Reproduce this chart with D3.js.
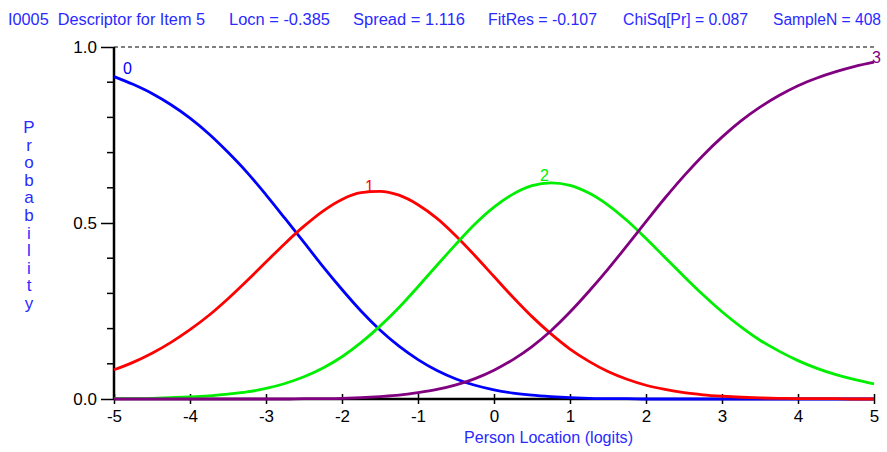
<!DOCTYPE html>
<html>
<head>
<meta charset="utf-8">
<script src="https://cdn.jsdelivr.net/npm/d3@7"></script>
<style>
  body { margin: 0; background: #fff; }
  svg { display: block; font-family: Arial, "Liberation Sans", sans-serif; }
</style>
</head>
<body>
<div id="chart"></div>
<script>
// person locations (logits)
const locations = [-5, -4.75, -4.5, -4.25, -4, -3.75, -3.5, -3.25, -3, -2.75, -2.5, -2.25, -2, -1.75, -1.5, -1.25, -1, -0.75, -0.5, -0.25,
  0, 0.25, 0.5, 0.75, 1, 1.25, 1.5, 1.75, 2, 2.25, 2.5, 2.75, 3, 3.25, 3.5, 3.75, 4, 4.25, 4.5, 4.75, 5];

// category probabilities
const cat0 = [0.916, 0.894, 0.868, 0.836, 0.798, 0.753, 0.701, 0.644, 0.580, 0.513, 0.445, 0.376, 0.311, 0.250, 0.196, 0.150, 0.112, 0.081, 0.057, 0.039,
  0.026, 0.017, 0.011, 0.007, 0.004, 0.002, 0.001, 0.001, 0, 0, 0, 0, 0, 0, 0, 0, 0, 0, 0, 0, 0];
const cat1 = [0.083, 0.104, 0.130, 0.161, 0.197, 0.238, 0.285, 0.336, 0.389, 0.442, 0.491, 0.534, 0.567, 0.586, 0.590, 0.579, 0.552, 0.513, 0.463, 0.407,
  0.348, 0.289, 0.234, 0.185, 0.142, 0.107, 0.078, 0.056, 0.039, 0.027, 0.018, 0.012, 0.008, 0.005, 0.003, 0.002, 0.001, 0.001, 0.001, 0, 0];
const cat2 = [0.001, 0.001, 0.002, 0.004, 0.006, 0.009, 0.014, 0.020, 0.030, 0.044, 0.063, 0.088, 0.120, 0.160, 0.207, 0.260, 0.319, 0.380, 0.440, 0.497,
  0.545, 0.582, 0.606, 0.614, 0.607, 0.585, 0.551, 0.507, 0.456, 0.402, 0.348, 0.296, 0.248, 0.205, 0.167, 0.136, 0.109, 0.087, 0.069, 0.055, 0.043];
const cat3 = [0, 0, 0, 0, 0, 0, 0, 0, 0, 0, 0.001, 0.001, 0.002, 0.004, 0.007, 0.011, 0.018, 0.027, 0.040, 0.058,
  0.082, 0.112, 0.149, 0.194, 0.247, 0.306, 0.369, 0.436, 0.504, 0.571, 0.634, 0.692, 0.744, 0.790, 0.829, 0.862, 0.890, 0.912, 0.930, 0.945, 0.957];

const categories = ["0", "1", "2", "3"];
const catColors = ["#0000ff", "#ff0000", "#00ee00", "#800080"];

const xTicks = [-5, -4, -3, -2, -1, 0, 1, 2, 3, 4, 5];
const yMajor = [0, 0.5, 1];
const yMinor = [0.1, 0.2, 0.3, 0.4, 0.6, 0.7, 0.8, 0.9];

const header = [
  { text: "I0005\u00a0 Descriptor for Item 5", x: 8, w: 197 },
  { text: "Locn = -0.385", x: 229, w: 101 },
  { text: "Spread = 1.116", x: 353, w: 112 },
  { text: "FitRes = -0.107", x: 488, w: 109 },
  { text: "ChiSq[Pr] = 0.087", x: 623, w: 125 },
  { text: "SampleN = 408", x: 773, w: 108 }
];

const W = 887, H = 452;
const margin = { top: 47, right: 13, bottom: 53, left: 114 };
const blueText = "#2a2aff";

const svg = d3.select("#chart").append("svg")
  .attr("width", W)
  .attr("height", H);

const x = d3.scaleLinear().domain([-5, 5]).range([margin.left, W - margin.right]);
const y = d3.scaleLinear().domain([0, 1]).range([H - margin.bottom, margin.top]);

// header line
svg.append("g")
  .selectAll("text")
  .data(header)
  .join("text")
  .attr("x", d => d.x)
  .attr("y", 25)
  .attr("fill", blueText)
  .attr("font-size", 16)
  .attr("textLength", d => d.w)
  .attr("lengthAdjust", "spacingAndGlyphs")
  .text(d => d.text);

// dashed line at 1.0
svg.append("line")
  .attr("x1", x(-5)).attr("x2", x(5))
  .attr("y1", y(1)).attr("y2", y(1))
  .attr("stroke", "#000")
  .attr("stroke-width", 1)
  .attr("stroke-dasharray", "4,3");

// y axis
const yAxis = svg.append("g")
  .attr("transform", `translate(${x(-5)},0)`)
  .call(d3.axisLeft(y).tickValues(yMajor).tickFormat(d3.format(".1f")).tickSize(13).tickPadding(4));
yAxis.select(".domain").attr("stroke-width", 2.5).attr("d", `M0,${y(0)}V${y(1)}`);
yAxis.selectAll(".tick line").attr("stroke-width", 1.5);
yAxis.selectAll(".tick text").attr("font-size", 17).attr("fill", "#000").attr("font-family", "Arial, sans-serif");

svg.append("g")
  .selectAll("line")
  .data(yMinor)
  .join("line")
  .attr("x1", x(-5) - 7).attr("x2", x(-5))
  .attr("y1", d => y(d)).attr("y2", d => y(d))
  .attr("stroke", "#000")
  .attr("stroke-width", 1.5);

// x axis
const xAxis = svg.append("g")
  .attr("transform", `translate(0,${y(0)})`)
  .call(d3.axisBottom(x).tickValues(xTicks).tickFormat(d3.format("d")).tickSize(5).tickPadding(6));
xAxis.select(".domain").attr("stroke-width", 2.5).attr("d", `M${x(-5)},0H${x(5)}`);
xAxis.selectAll(".tick line").attr("stroke-width", 1.5).attr("y1", -5);
xAxis.selectAll(".tick text").attr("font-size", 17).attr("fill", "#000").attr("font-family", "Arial, sans-serif")
  .text(d => d < 0 ? "-" + Math.abs(d) : d);

// y label, stacked letters
svg.append("g")
  .selectAll("text")
  .data("Probability".split(""))
  .join("text")
  .attr("x", 29)
  .attr("y", (d, i) => 133 + i * 17.6)
  .attr("text-anchor", "middle")
  .attr("fill", blueText)
  .attr("font-size", 17)
  .text(d => d);

// x label
svg.append("text")
  .attr("x", 464)
  .attr("y", 443)
  .attr("fill", blueText)
  .attr("font-size", 17)
  .attr("textLength", 169)
  .attr("lengthAdjust", "spacingAndGlyphs")
  .text("Person Location (logits)");

// curves
const series = [cat0, cat1, cat2, cat3];
const line = d3.line()
  .x((d, i) => x(locations[i]))
  .y(d => y(d))
  .curve(d3.curveMonotoneX);

svg.append("g")
  .selectAll("path")
  .data(series)
  .join("path")
  .attr("d", line)
  .attr("fill", "none")
  .attr("stroke", (_, i) => catColors[i])
  .attr("stroke-width", 2.8);

// category labels near each curve's peak
const labels = series.map((vals, i) => {
  const k = d3.maxIndex(vals);
  return { cat: categories[i], t: locations[k], p: vals[k], i };
});
const labelShift = [{ dx: 9, dy: -3 }, { dx: -15, dy: 1 }, { dx: -11, dy: -2 }, { dx: -2, dy: 1 }];

svg.append("g")
  .selectAll("text")
  .data(labels)
  .join("text")
  .attr("x", d => x(d.t) + labelShift[d.i].dx)
  .attr("y", d => y(d.p) + labelShift[d.i].dy)
  .attr("fill", d => catColors[d.i])
  .attr("font-size", 16)
  .text(d => d.cat);
</script>
</body>
</html>
